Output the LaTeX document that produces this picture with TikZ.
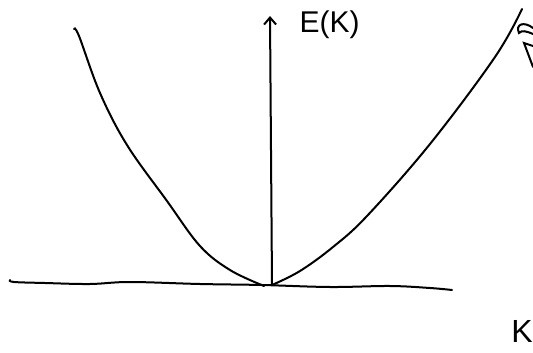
\documentclass[tikz,border=0pt]{standalone}
\usepackage{fontspec}
\setmainfont{Liberation Sans}
\usetikzlibrary{arrows.meta}
\usetikzlibrary{math}

\begin{document}
\begin{tikzpicture}[x=1pt,y=-1pt]
\tikzmath{
\W=533;
\H=353;
\lw=2;%pen width
}
\useasboundingbox (0,0) rectangle (\W,\H);
\clip (0,0) rectangle (\W,\H);
%axes
\coordinate (O) at (272,285);
\coordinate (Etop) at (270,16);
\coordinate (Kl) at (10,280);
\coordinate (Kr) at (452,290);

\draw[line width=\lw, line cap=round] plot[smooth, tension=0.6] coordinates
  {(Kl) (14,282) (45,283) (90,284) (130,282) (200,284) (262,285) (330,287) (390,286) (430,288) (Kr)};
\draw[line width=\lw, line cap=round, -{Straight Barb[length=7pt,width=12pt,line width=\lw]}]
  (O) -- (Etop);
\node[anchor=west, font=\fontsize{30}{30}\selectfont] (E) at (296,25) {E(K)};

%branches
\draw[line width=\lw, line cap=round] plot[smooth, tension=0.6] coordinates
  {(74,29) (79,36) (100,93) (127,145) (167,201) (200,246) (230,270) (264,286)};
\draw[line width=\lw, line cap=round] plot[smooth, tension=0.6] coordinates
  {(272,285) (300,271) (333,247) (367,216) (430,144) (495,57) (522,9)};

%cut-off marks at the right edge
\draw[line width=\lw, line cap=round] (533,28) .. controls (524,21) and (515,24) .. (519,33)
  .. controls (522,30) and (526,31) .. (533,34);
\draw[line width=\lw, line cap=round] (533,46) -- (524,43) -- (533,67);
\node[anchor=east, inner sep=0pt, font=\fontsize{32}{32}\selectfont] (K) at (533,331) {K};
\end{tikzpicture}
\end{document}
